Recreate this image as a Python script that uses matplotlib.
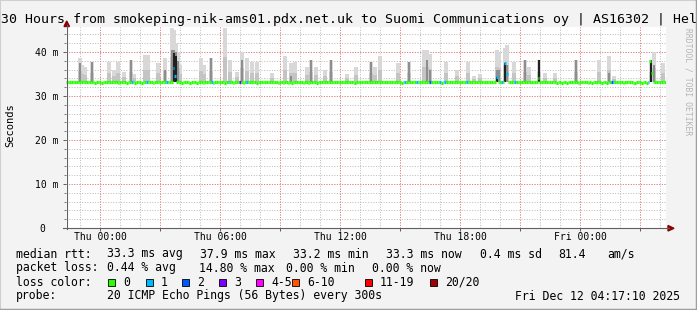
'''
 SmokePing style latency graph: median rtt with smoke and packet loss colours
'''
import numpy as np
import matplotlib
matplotlib.use('Agg')
import matplotlib.pyplot as plt
from matplotlib.patches import Polygon, Rectangle
from matplotlib.collections import LineCollection

W, H = 697, 310  # size of the picture in pixels

# ---------------- data (hours from Thu 00:00) ----------------
x_range = [-1.7, 28.3]
tick_hours = [0, 6, 12, 18, 24]
tick_labels = ['Thu 00:00', 'Thu 06:00', 'Thu 12:00', 'Thu 18:00', 'Fri 00:00']
y_ticks = [0, 10, 20, 30, 40]
y_labels = ['0  ', '10 m', '20 m', '30 m', '40 m']
y_top = 45.7

median_base = 33.3   # ms, the usual median
median_dip = 33.0    # ms, the small dips of the median line
dip_hours = [-0.25, 0.1, 0.95, 1.3, 1.75, 2.05, 2.7, 4.05, 4.5, 4.85, 5.2, 5.7, 6.25,
             6.7, 7.2, 7.8, 8.9, 9.15, 9.4, 9.6, 10.2, 10.45, 10.85, 12.75, 15.1, 17.05,
             22.85, 23.1, 23.3, 23.95, 24.45, 24.55, 25.05, 25.3, 26.2, 26.65, 26.75,
             27.05, 27.35]
jump_hours = [3.65, 3.75, 19.85, 20.25, 20.35, 21.95, 27.5, 27.6]
jump_values = [36.4, 34.5, 34.3, 37.5, 35.0, 34.0, 38.0, 35.2]

loss_hours = [1.55, 2.35, 3.3, 3.65, 3.75, 5.6, 6.45, 7.0, 7.35, 15.25, 15.85, 16.5,
              17.0, 17.25, 18.35, 19.85, 20.1, 20.25, 20.35, 20.75, 25.55, 25.6, 25.7, 27.4]
loss_counts = [1, 1, 1, 1, 1, 1, 1, 3, 1, 1, 1, 2, 1, 1, 1, 1, 1, 1, 1, 1, 1, 2, 1, 1]

# smoke: top of the light smoke and top of the darker core (0 = no core)
spike_hours = [-1.0, -0.9, -0.75, -0.4, 0.45, 0.7, 0.9, 1.2, 1.55, 1.7, 2.25, 2.4, 2.9,
               3.25, 3.6, 3.7, 3.8, 3.9, 4.0, 5.05, 5.2, 5.55, 6.25, 6.5, 6.85, 7.1, 7.35,
               7.6, 7.85, 8.6, 9.25, 9.55, 9.75, 10.35, 10.55, 10.8, 11.25, 11.55, 12.35,
               12.8, 13.55, 13.75, 14.0, 14.9, 15.45, 16.2, 16.35, 16.5, 17.3, 17.85, 18.4,
               18.7, 19.0, 19.85, 19.95, 20.25, 20.35, 20.7, 21.25, 21.45, 21.95, 22.25,
               22.75, 23.8, 24.95, 25.45, 25.7, 27.55, 27.7, 28.15]
spike_top = [38.6, 37.0, 36.6, 37.7, 37.7, 36.0, 37.7, 35.5, 38.2, 35.0, 39.3, 39.3, 37.5,
             38.6, 45.5, 45.0, 42.0, 40.0, 37.0, 38.6, 37.0, 38.6, 45.5, 38.2, 35.5, 40.0, 38.6,
             37.7, 37.7, 35.2, 39.0, 37.5, 37.7, 36.6, 38.2, 36.6, 36.0, 38.2, 35.0,
             36.6, 37.7, 36.6, 39.0, 37.5, 37.7, 40.5, 40.5, 39.5, 37.7, 36.0, 37.7,
             34.5, 35.0, 40.5, 40.0, 41.0, 41.5, 37.7, 38.2, 36.6, 38.2, 35.2,
             35.2, 38.2, 38.2, 39.0, 34.5, 38.2, 40.0, 37.5]
spike_core = [37.5, 0, 0, 37.7, 0, 0, 0, 0, 38.2, 0, 0, 0, 0,
              36.0, 40.5, 40.5, 40.0, 38.0, 0, 0, 0, 38.6, 0, 0, 0, 38.2, 0,
              0, 0, 0, 0, 34.5, 0, 0, 38.2, 0, 0, 38.2, 0,
              0, 37.7, 0, 0, 0, 37.7, 0, 38.2, 36.0, 0, 0, 0,
              0, 0, 36.0, 36.0, 37.5, 37.0, 0, 38.2, 0, 38.2, 0,
              0, 38.2, 0, 35.2, 0, 38.2, 37.0, 0]
black_hours = [3.7, 3.8, 19.85, 20.25, 21.95, 27.55]
black_top = [39.8, 39.0, 34.3, 37.5, 38.2, 38.2]

# legend texts
loss_labels = ['0', '1', '2', '3', '4-5', '6-10', '11-19', '20/20']
loss_colors = ['#26ff00', '#00b8ff', '#0059ff', '#7e00ff', '#ff00ff', '#ff5500', '#ff0000', '#a10000']
rtt_texts = ['33.3 ms avg', '37.9 ms max', '33.2 ms min', '33.3 ms now', '0.4 ms sd', '81.4', 'am/s']
loss_texts = ['0.44 % avg', '14.80 % max', '0.00 % min', '0.00 % now']
probe_text = '20 ICMP Echo Pings (56 Bytes) every 300s'
date_text = 'Fri Dec 12 04:17:10 2025'
title = '30 Hours from smokeping-nik-ams01.pdx.net.uk to Suomi Communications oy | AS16302 | Hel'

MONO = 'DejaVu Sans Mono'


def fx(x):
    return x / W  # pixel x -> figure fraction


def fy(y):
    return 1 - y / H  # pixel y -> figure fraction


def loss_class(c):
    # index of the loss colour for a number of lost pings (out of 20)
    if c <= 3:
        return c
    if c <= 5:
        return 4
    if c <= 10:
        return 5
    if c <= 19:
        return 6
    return 7


fig = plt.figure(figsize=(W / 100, H / 100), dpi=100, facecolor='#f3f3f3')
ax = fig.add_axes([fx(66), fy(228), 600 / W, 201 / H])  # plot canvas
ax.set_facecolor('white')
ax.set_xlim(x_range)
ax.set_ylim(0, y_top)
for s in ax.spines.values():
    s.set_visible(False)

# grid: gray every hour / 2 ms, red every 3 hours / 10 ms (dotted)
dots = dict(lw=0.72, ls=(0, (1, 1.6)))
for h in np.arange(-1, 29):
    ax.axvline(h, color='#bcbcbc', zorder=0, **dots)
for v in np.arange(2, 46, 2):
    ax.axhline(v, color='#bcbcbc', zorder=0, **dots)
for h in np.arange(0, 28, 3):
    ax.axvline(h, color='#ee7f7f', zorder=0.5, **dots)
for v in y_ticks[1:]:
    ax.axhline(v, color='#ee7f7f', zorder=0.5, **dots)

# smoke
light = np.array(spike_top) - median_base
ax.bar(spike_hours, light, bottom=median_base, width=0.16, color='#d8d8d8', lw=0, zorder=1)
ax.bar(spike_hours, 0.45 * light, bottom=median_base, width=0.16, color='#c4c4c4', lw=0, zorder=1.1)
core = np.array(spike_core)
has_core = core > 0
ax.bar(np.array(spike_hours)[has_core], core[has_core] - median_base, bottom=median_base,
       width=0.1, color='#8e8e8e', lw=0, zorder=1.2)
ax.bar(black_hours, np.array(black_top) - median_base, bottom=median_base,
       width=0.1, color='#202020', lw=0, zorder=1.3)

# median line, 5 minute steps, coloured by loss
bins = np.arange(-20, 340) / 12
median = np.full(len(bins), median_base)
for h in dip_hours:
    median[np.argmin(abs(bins - h))] = median_dip
for h, v in zip(jump_hours, jump_values):
    median[np.argmin(abs(bins - h))] = v
loss = np.zeros(len(bins), dtype=int)
for h, c in zip(loss_hours, loss_counts):
    loss[np.argmin(abs(bins - h))] = c
segs = [[(b - 1 / 24, m), (b + 1 / 24, m)] for b, m in zip(bins, median)]
cols = [loss_colors[loss_class(c)] for c in loss]
ax.add_collection(LineCollection(segs, colors=cols, linewidths=2.3, capstyle='butt', zorder=3))

# ticks and labels
ax.set_xticks(np.arange(0, 28, 3))
ax.set_xticklabels([tick_labels[tick_hours.index(h)] if h in tick_hours else '' for h in np.arange(0, 28, 3)],
                   fontfamily=MONO, fontsize=7)
ax.set_yticks(y_ticks)
ax.set_yticklabels(y_labels, fontfamily=MONO, fontsize=7)
ax.set_yticks(np.arange(2, 46, 2), minor=True)
ax.tick_params(axis='x', length=2.2, width=0.72, color='#606060', pad=0.8)
ax.tick_params(axis='y', length=2.2, width=0.72, color='#606060', pad=3.5)
ax.tick_params(axis='y', which='minor', length=1.4, width=0.72, color='#808080')

# axis lines with dark red arrow heads
fig.add_artist(plt.Line2D([fx(66.5), fx(66.5)], [fy(229), fy(25)], color='#606060', lw=0.8))
fig.add_artist(plt.Line2D([fx(63), fx(669)], [fy(228.3), fy(228.3)], color='#606060', lw=0.8))
fig.add_artist(Polygon([[fx(64), fy(26.5)], [fx(69.5), fy(26.5)], [fx(66.7), fy(21)]],
                       closed=True, color='#8b0000', transform=fig.transFigure))
fig.add_artist(Polygon([[fx(668), fy(225.5)], [fx(668), fy(231)], [fx(674), fy(228.3)]],
                       closed=True, color='#8b0000', transform=fig.transFigure))

# titles
fig.text(fx(1), fy(19), title, fontfamily=MONO, fontsize=9.5, ha='left', va='center')
fig.text(fx(10), fy(125), 'Seconds', fontfamily=MONO, fontsize=7.5, rotation=90, ha='center', va='center')
fig.text(fx(688), fy(82), 'RRDTOOL / TOBI OETIKER', fontfamily=MONO, fontsize=5.8,
         rotation=270, ha='center', va='center', color='#b5b5b5')

# legend rows
fs = 8.3
fig.text(fx(16), fy(254), 'median rtt:', fontfamily=MONO, fontsize=fs, va='center')
for txt, x in zip(rtt_texts, [107, 200, 293, 386, 480, 558, 607]):
    fig.text(fx(x), fy(254), txt, fontfamily=MONO, fontsize=fs, va='center')
fig.text(fx(16), fy(268), 'packet loss:', fontfamily=MONO, fontsize=fs, va='center')
for txt, x in zip(loss_texts, [107, 199, 286, 372]):
    fig.text(fx(x), fy(268), txt, fontfamily=MONO, fontsize=fs, va='center')
fig.text(fx(16), fy(282), 'loss color:', fontfamily=MONO, fontsize=fs, va='center')
for lab, col, x in zip(loss_labels, loss_colors, [108, 146, 182, 219, 256, 292, 365, 430]):
    fig.add_artist(Rectangle((fx(x), fy(285.5)), 7 / W, 7 / H, facecolor=col, edgecolor='black',
                             lw=0.6, transform=fig.transFigure))
    fig.text(fx(x + 15), fy(282), lab, fontfamily=MONO, fontsize=fs, va='center')
fig.text(fx(16), fy(296), 'probe:', fontfamily=MONO, fontsize=fs, va='center')
fig.text(fx(107), fy(296), probe_text, fontfamily=MONO, fontsize=fs, va='center')
fig.text(fx(680), fy(296), date_text, fontfamily=MONO, fontsize=fs, va='center', ha='right')

# picture frame (light top/left, dark bottom/right)
fig.add_artist(plt.Line2D([0, 0, 1], [0, 1, 1], color='#cfcfcf', lw=1.5, transform=fig.transFigure))
fig.add_artist(plt.Line2D([0, 1, 1], [0, 0, 1], color='#9e9e9e', lw=2.5, transform=fig.transFigure))

fig.savefig('out.png', dpi=100, facecolor=fig.get_facecolor())
